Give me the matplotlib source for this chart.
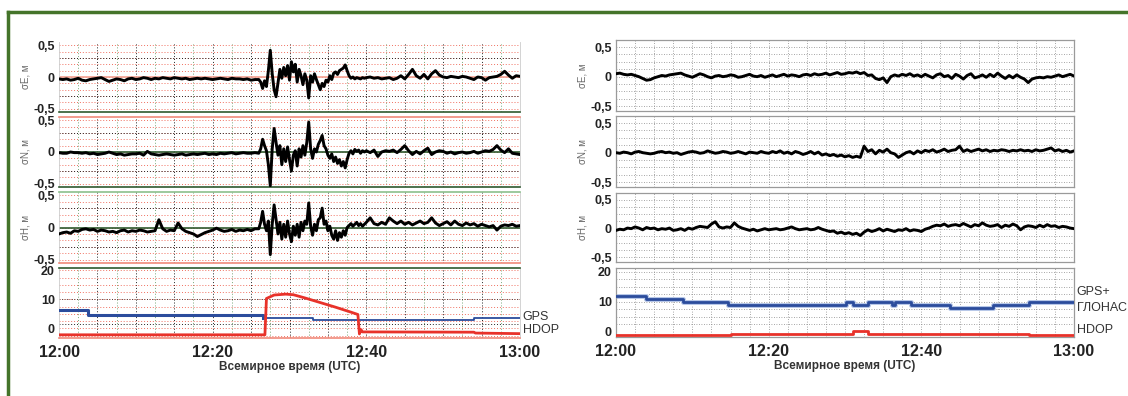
import numpy as np
import matplotlib
matplotlib.use('Agg')
import matplotlib.pyplot as plt
from matplotlib.lines import Line2D
from matplotlib.ticker import FuncFormatter

plt.rcParams['font.family'] = ['Liberation Sans', 'DejaVu Sans']

# time axis in minutes after 12:00 UTC
t_left = np.concatenate([np.arange(0, 26, 0.5), np.arange(26, 40, 0.25), np.arange(40, 60.01, 0.5)])
t_right = np.arange(0, 60.01, 0.5)

# left station (GPS only)
sE_left = [
    -0.03, -0.04, -0.03, -0.05, -0.04, -0.02, -0.05, -0.06, -0.04, -0.03,
    -0.02, -0.01, -0.04, -0.07, -0.05, -0.03, -0.04, -0.06, -0.03, -0.02,
    -0.04, -0.03, -0.01, -0.02, -0.04, -0.02, -0.03, -0.01, -0.02, -0.03,
    -0.01, -0.02, -0.03, -0.02, -0.04, -0.03, -0.02, -0.03, -0.02, -0.03,
    -0.04, -0.03, -0.02, -0.03, -0.04, -0.02, -0.03, -0.03, -0.04, -0.03,
    -0.05, -0.04,
    -0.04, -0.08, -0.18, -0.06, -0.15, 0.10, 0.42, 0.05, -0.20, -0.31,
    -0.10, 0.12, -0.02, 0.15, 0.02, 0.18, -0.05, 0.24, 0.08, 0.20,
    -0.08, 0.12, 0.02, -0.12, 0.05, -0.05, -0.33, 0.02, -0.08, 0.05,
    -0.04, -0.12, -0.20, -0.10, -0.15, -0.05, -0.08, 0.02, -0.04, 0.06,
    0.08, 0.04, 0.10, 0.12, 0.14, 0.19, 0.10, 0.02, -0.02, 0.00,
    -0.03, -0.01, -0.02, -0.03, -0.01, -0.02,
    -0.01, 0.00, -0.02, -0.01, -0.03, -0.02, -0.01, -0.04, -0.02, 0.02,
    -0.03, 0.04, 0.12, 0.02, -0.02, 0.04, -0.03, 0.05, 0.10, 0.03,
    0.00, -0.01, 0.01, 0.00, -0.01, 0.01, 0.00, -0.02, -0.04, 0.00,
    -0.01, -0.05, -0.01, 0.00, 0.01, 0.04, 0.09, 0.03, -0.02, 0.02,
    0.01]
sN_left = [
    -0.01, -0.02, -0.02, 0.00, -0.01, -0.01, -0.02, -0.01, -0.03, -0.02,
    -0.04, -0.03, -0.02, 0.00, -0.02, -0.04, -0.03, -0.05, -0.04, -0.03,
    -0.03, -0.02, -0.05, 0.01, -0.03, -0.04, -0.05, -0.04, -0.03, -0.04,
    -0.05, -0.04, -0.03, -0.05, -0.04, -0.03, -0.04, -0.03, -0.02, -0.04,
    -0.03, -0.04, -0.02, -0.03, -0.02, -0.01, -0.03, -0.02, -0.01, -0.02,
    -0.02, -0.01,
    -0.02, 0.05, 0.20, 0.10, 0.02, -0.20, -0.53, 0.05, 0.37, 0.15,
    -0.05, 0.10, -0.20, 0.05, -0.15, 0.08, -0.12, -0.30, -0.05, 0.02,
    -0.22, 0.05, -0.08, 0.10, -0.05, 0.15, 0.47, 0.05, -0.10, 0.05,
    0.00, 0.12, 0.18, 0.26, 0.10, 0.05, -0.05, -0.10, -0.03, -0.15,
    -0.08, -0.18, -0.12, -0.22, -0.15, -0.25, -0.12, -0.02, 0.02, -0.03,
    0.04, 0.01, 0.03, -0.02, 0.02, 0.00,
    0.02, -0.01, 0.03, -0.07, 0.00, 0.02, 0.01, 0.03, -0.01, 0.04,
    0.10, 0.02, -0.04, 0.01, -0.03, 0.02, 0.06, -0.04, 0.00, 0.02,
    0.01, -0.02, 0.00, -0.03, -0.01, 0.00, -0.02, -0.01, 0.01, -0.02,
    0.00, 0.02, 0.01, 0.04, 0.10, 0.03, -0.01, 0.05, -0.02, -0.03,
    -0.04]
sH_left = [
    -0.10, -0.08, -0.07, -0.09, -0.05, -0.06, -0.03, -0.02, -0.04, -0.03,
    -0.06, -0.04, -0.05, -0.07, -0.06, -0.08, -0.05, -0.04, -0.07, -0.05,
    -0.06, -0.04, -0.05, -0.07, -0.06, -0.05, 0.12, -0.02, -0.06, -0.04,
    -0.05, 0.07, -0.02, -0.06, -0.08, -0.10, -0.14, -0.11, -0.08, -0.06,
    -0.04, -0.01, -0.04, -0.06, -0.05, -0.03, -0.06, -0.04, -0.05, -0.03,
    -0.05, -0.02,
    -0.02, 0.08, 0.25, 0.05, -0.05, 0.10, -0.42, 0.05, 0.35, 0.12,
    -0.10, 0.08, -0.18, 0.05, -0.15, 0.10, -0.10, -0.22, 0.02, -0.12,
    0.05, -0.15, 0.08, -0.05, 0.10, 0.05, 0.38, 0.02, -0.12, 0.05,
    -0.05, 0.12, 0.15, 0.30, 0.05, 0.10, -0.05, 0.02, -0.12, -0.18,
    -0.05, -0.20, -0.08, -0.15, -0.05, -0.12, 0.00, 0.03, 0.06, 0.02,
    0.05, 0.08, 0.03, 0.06, 0.02, 0.05,
    0.08, 0.15, 0.06, 0.04, 0.08, 0.05, 0.15, 0.10, 0.06, 0.10,
    0.05, 0.08, 0.04, 0.07, 0.10, 0.06, 0.08, 0.15, 0.07, 0.03,
    0.06, 0.09, 0.04, 0.10, 0.05, 0.03, 0.07, 0.04, 0.06, 0.02,
    0.05, 0.03, 0.01, 0.03, -0.04, 0.02, 0.04, 0.03, 0.05, 0.02,
    0.03]

gps_t = [0, 3.8, 26.6, 33.0, 54.0, 60]
gps_v = [6.4, 4.7, 3.7, 2.8, 3.7, 3.7]
hdop_t = [0, 26.8, 27.0, 28.0, 29.5, 30.5, 32.0, 34.0, 36.0, 38.0, 38.9, 39.1, 39.3, 39.5, 54.0, 54.2, 60]
hdop_v = [-2.2, -2.2, 10.3, 11.5, 11.8, 11.6, 10.5, 8.9, 7.3, 5.6, 4.8, -1.9, -0.4, -1.2, -1.3, -1.6, -1.8]

# right station (GPS + GLONASS)
sE_right = [
    0.05, 0.06, 0.04, 0.03, 0.04, 0.02, 0.00, -0.03, -0.06, -0.05,
    -0.02, 0.00, 0.02, 0.01, 0.03, 0.04, 0.05, 0.06, 0.03, 0.01,
    -0.01, 0.02, 0.05, 0.03, 0.00, -0.02, 0.01, 0.02, 0.00, 0.01,
    0.03, 0.02, -0.01, 0.00, 0.02, 0.04, 0.01, 0.00, 0.02, -0.01,
    0.01, 0.03, 0.00, 0.02, 0.04, 0.01, 0.03, 0.02, 0.00, 0.03,
    0.04, 0.02, 0.05, 0.03, 0.04, 0.06, 0.03, 0.05, 0.07, 0.04,
    0.05, 0.07, 0.06, 0.08, 0.05, 0.07, 0.02, 0.03, -0.03, -0.05,
    -0.02, -0.10, 0.00, 0.03, 0.01, 0.04, 0.02, 0.05, 0.01, 0.03,
    0.00, 0.04, 0.01, -0.02, 0.03, 0.05, 0.00, 0.02, -0.03, 0.04,
    0.01, -0.04, 0.02, 0.05, -0.02, 0.00, 0.03, -0.01, 0.04, 0.00,
    0.06, 0.01, -0.03, 0.02, -0.02, 0.03, -0.01, -0.04, -0.10, -0.04,
    -0.02, -0.01, -0.02, 0.00, -0.01, 0.01, 0.03, 0.00, 0.02, 0.04,
    0.01]
sN_right = [
    0.00, -0.01, 0.01, 0.00, -0.02, 0.01, 0.02, 0.00, -0.01, -0.02,
    -0.01, 0.01, 0.02, 0.00, 0.01, -0.01, 0.00, -0.03, -0.01, 0.01,
    0.02, 0.01, -0.01, 0.00, 0.03, 0.01, -0.01, 0.00, 0.02, 0.01,
    -0.01, 0.00, 0.02, 0.00, -0.02, 0.01, 0.00, -0.01, 0.02, 0.00,
    -0.01, 0.02, 0.00, 0.03, -0.01, 0.01, -0.02, 0.02, 0.00, -0.03,
    -0.01, 0.02, -0.02, 0.01, -0.04, -0.02, -0.05, -0.03, -0.06, -0.04,
    -0.07, -0.05, -0.08, -0.06, -0.08, 0.11, 0.02, 0.05, -0.02, 0.04,
    0.01, 0.06, 0.00, -0.02, -0.08, -0.04, 0.00, 0.02, -0.02, 0.03,
    0.00, 0.04, 0.02, 0.05, 0.01, 0.03, 0.06, 0.02, 0.04, 0.05,
    0.11, 0.02, 0.05, 0.02, 0.04, 0.06, 0.03, 0.05, 0.02, 0.04,
    0.03, 0.05, 0.04, 0.02, 0.04, 0.03, 0.05, 0.03, 0.04, 0.02,
    0.05, 0.03, 0.04, 0.06, 0.08, 0.03, 0.05, 0.02, 0.04, 0.01,
    0.03]
sH_right = [
    -0.03, -0.01, -0.02, 0.01, 0.00, 0.03, 0.01, -0.02, 0.02, 0.00,
    0.01, -0.02, 0.00, -0.01, 0.01, -0.03, -0.02, 0.00, -0.03, 0.01,
    -0.01, 0.02, 0.04, 0.03, 0.02, 0.08, 0.12, 0.03, 0.01, 0.03,
    0.02, 0.10, 0.04, 0.01, -0.01, -0.03, -0.01, -0.04, -0.02, 0.00,
    -0.02, -0.01, 0.00, -0.02, -0.01, 0.01, 0.03, 0.00, -0.02, -0.01,
    0.00, -0.02, -0.01, 0.02, -0.01, -0.03, -0.05, -0.04, -0.08, -0.06,
    -0.09, -0.07, -0.10, -0.08, -0.12, -0.06, -0.02, -0.05, -0.03, 0.00,
    -0.04, -0.01, -0.03, -0.05, -0.02, -0.03, 0.00, -0.04, -0.02, -0.03,
    -0.05, -0.01, 0.01, 0.04, 0.06, 0.05, 0.08, 0.04, 0.06, 0.07,
    0.05, 0.09, 0.06, 0.03, 0.07, 0.05, 0.10, 0.06, 0.04, 0.05,
    0.07, 0.02, 0.06, 0.04, 0.08, 0.05, -0.02, 0.03, 0.05, 0.04,
    0.02, 0.06, 0.03, 0.07, 0.04, 0.05, 0.02, 0.04, 0.03, 0.01,
    0.00]

gg_t = [0, 3.9, 8.8, 14.7, 30.1, 31.0, 33.0, 36.1, 36.6, 38.7, 43.7, 49.4, 54.1, 60]
gg_v = [12, 11, 10, 9, 10, 9, 10, 9, 10, 9, 8, 9, 10, 10]
hdop2_t = [0, 9.3, 15.0, 30.8, 31.1, 32.7, 33.0, 38.9, 49.4, 54.1, 60]
hdop2_v = [-1.2, -1.0, -0.8, -0.8, 0.2, 0.2, -0.8, -0.7, -0.8, -1.2, -1.2]

xtick_pos = [0, 20, 40, 60]
xtick_lab = ['12:00', '12:20', '12:40', '13:00']
ylabels = ['σE, м', 'σN, м', 'σH, м']

fig = plt.figure(figsize=(11.28, 3.96), dpi=100)
W, H = 1128.0, 396.0

def box(x0, x1, y0, y1):
    return [x0 / W, 1 - y1 / H, (x1 - x0) / W, (y1 - y0) / H]

comma = FuncFormatter(lambda v, p: ('%g' % v).replace('.', ','))

left_rows = [(42, 112), (117, 187), (192, 263), (268, 338)]
right_rows = [(40, 111), (116, 187), (193, 262), (268, 337)]

def style_axes(ax, dop):
    ax.set_xlim(0, 60)
    ax.tick_params(length=0, labelsize=9, labelcolor='#222', pad=3)
    ax.yaxis.set_major_formatter(comma)
    if dop:
        ax.set_yticks([0, 10, 20])
    else:
        ax.set_yticks([-0.5, 0, 0.5])
    for lab in ax.get_yticklabels():
        lab.set_fontweight('bold')

# ---------- left: GPS ----------
left_data = [sE_left, sN_left, sH_left]
top_col = ['none', '#f08a7a', '#8cc08c', '#2f5a2f']
bot_col = ['#2f5a2f', '#2f5a2f', '#f08a7a', '#f08a7a']
zero_col = ['#f4a090', '#2f5a2f', '#2f5a2f']
for i, (y0, y1) in enumerate(left_rows):
    ax = fig.add_axes(box(59, 520, y0, y1))
    dop = i == 3
    for k, x in enumerate(np.arange(2.5, 60, 2.5)):
        ax.axvline(x, color='#222' if k % 2 else '#78a878', ls=(0, (1, 2)), lw=0.7, zorder=0)
    if dop:
        ax.set_ylim(-3.3, 20.8)
        for y in np.arange(-2.5, 21, 2.5):
            ax.axhline(y, color='#f07060', ls=(0, (1, 2)), lw=0.7, zorder=0)
        ax.axhline(1.5, color='#222', ls=(0, (1, 2)), lw=0.7, zorder=0)
        ax.axhline(10.0, color='#222', ls=(0, (1, 2)), lw=0.6, zorder=0)
        ax.step(gps_t[:3], gps_v[:3], where='post', color='#2b4c9c', lw=2.2, zorder=3)
        ax.step(gps_t[2:], gps_v[2:], where='post', color='#2b4c9c', lw=1.3, zorder=3)
        ax.plot(hdop_t, hdop_v, color='#e8322a', lw=2.0, zorder=4)
        tr = ax.get_yaxis_transform()
        ax.text(1.006, 3.9, 'GPS', transform=tr, fontsize=9, color='#333', va='center')
        ax.text(1.006, -0.4, 'HDOP', transform=tr, fontsize=9, color='#333', va='center')
    else:
        ax.set_ylim(-0.55, 0.55)
        for y in np.arange(-0.5, 0.51, 0.1):
            ax.axhline(y, color='#f07060', ls=(0, (1, 2)), lw=0.7, zorder=0)
        for y in [-0.3, 0.3]:
            ax.axhline(y, color='#222', ls=(0, (1, 2)), lw=0.7, zorder=0)
        ax.axhline(0, color=zero_col[i], lw=1.2, zorder=1)
        ax.plot(t_left, left_data[i], color='black', lw=2.1, zorder=3)
        ax.set_ylabel(ylabels[i], fontsize=7, color='#666', labelpad=2)
    style_axes(ax, dop)
    for s in ['left', 'right']:
        ax.spines[s].set_color('#cccccc')
        ax.spines[s].set_linewidth(0.6)
    ax.spines['top'].set_color(top_col[i])
    ax.spines['bottom'].set_color(bot_col[i])
    ax.spines['top'].set_linewidth(1.2)
    ax.spines['bottom'].set_linewidth(1.2)
    if i == 0:
        ax.spines['top'].set_visible(False)
    if dop:
        ax.set_xticks(xtick_pos)
        ax.set_xticklabels(xtick_lab, fontsize=11.5, fontweight='bold', color='#222')
        ax.tick_params(axis='x', pad=5)
        ax.set_xlabel('Всемирное время (UTC)', fontsize=8.5, fontweight='bold', color='#333', labelpad=1)
    else:
        ax.set_xticks([])

# ---------- right: GPS + GLONASS ----------
right_data = [sE_right, sN_right, sH_right]
for i, (y0, y1) in enumerate(right_rows):
    ax = fig.add_axes(box(616, 1074, y0, y1))
    dop = i == 3
    for x in np.arange(2.5, 60, 2.5):
        ax.axvline(x, color='#888', ls=(0, (1, 2)), lw=0.6, zorder=0)
    if dop:
        ax.set_ylim(-1.8, 21.2)
        for y in np.arange(2.5, 21, 2.5):
            ax.axhline(y, color='#888', ls=(0, (1, 2)), lw=0.6, zorder=0)
        ax.step(gg_t, gg_v, where='post', color='#b8c8e8', lw=3.6, zorder=2)
        ax.step(gg_t, gg_v, where='post', color='#2b4c9c', lw=2.0, zorder=3)
        ax.step(hdop2_t, hdop2_v, where='post', color='#e8322a', lw=2.0, zorder=4)
        tr = ax.get_yaxis_transform()
        ax.text(1.006, 13.2, 'GPS+', transform=tr, fontsize=9, color='#333', va='center')
        ax.text(1.006, 7.9, 'ГЛОНАС', transform=tr, fontsize=9, color='#333', va='center')
        ax.text(1.006, 0.4, 'HDOP', transform=tr, fontsize=9, color='#333', va='center')
    else:
        ax.set_ylim(-0.58, 0.62)
        for y in np.arange(-0.5, 0.51, 0.125):
            ax.axhline(y, color='#888', ls=(0, (1, 2)), lw=0.6, zorder=0)
        ax.plot(t_right, right_data[i], color='black', lw=2.1, zorder=3)
        ax.set_ylabel(ylabels[i], fontsize=7, color='#666', labelpad=2)
    style_axes(ax, dop)
    for s in ax.spines.values():
        s.set_color('#9a9a9a')
        s.set_linewidth(0.9)
    if dop:
        ax.set_xticks(xtick_pos)
        ax.set_xticklabels(xtick_lab, fontsize=11.5, fontweight='bold', color='#222')
        ax.tick_params(axis='x', pad=5)
        ax.set_xlabel('Всемирное время (UTC)', fontsize=8.5, fontweight='bold', color='#333', labelpad=1)
    else:
        ax.set_xticks([])

# green frame round the figure
fc = '#44742a'
fig.add_artist(Line2D([7.5 / W, 1.0], [1 - 12 / H, 1 - 12 / H], color=fc, lw=2.5))
fig.add_artist(Line2D([7.5 / W, 7.5 / W], [0, 1 - 12 / H], color=fc, lw=2.5))

fig.savefig('out.png', dpi=100)
